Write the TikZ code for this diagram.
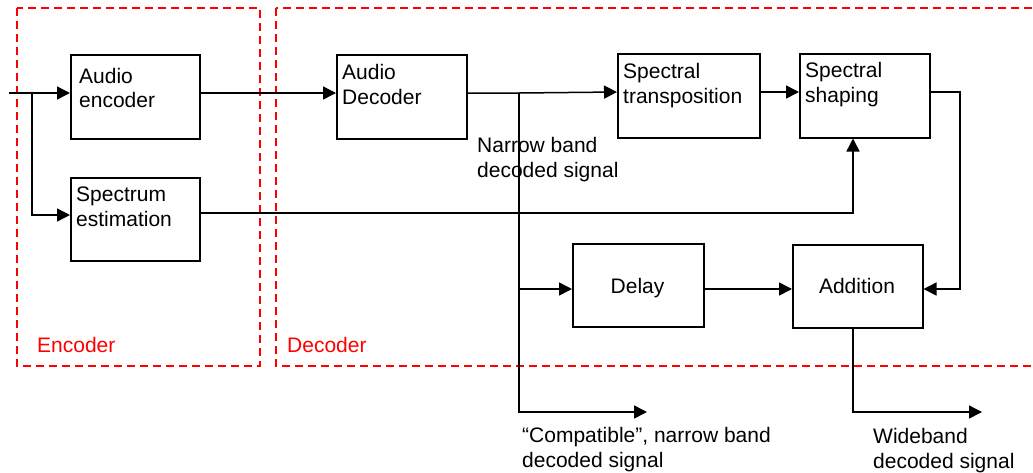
\documentclass[tikz,border=0pt]{standalone}
\usepackage{fontspec}
\setmainfont{Liberation Sans}
\usetikzlibrary{arrows.meta}
\tikzset{
  x=1pt, y=-1pt,
  blockbox/.style={draw=black, line width=1.5pt, rectangle, inner sep=0pt, anchor=north west},
  % anchor sits on the baseline of the last line of text
  blocktxt/.style={anchor=base west, inner sep=0pt, align=left,
    font=\fontsize{21}{24.5}\selectfont},
  regiontxt/.style={anchor=base west, inner sep=0pt, text=red,
    font=\fontsize{21}{24.5}\selectfont},
  region/.style={draw=red, line width=1.6pt, dash pattern=on 8pt off 5pt},
  wire/.style={draw=black, line width=1.5pt},
  flow/.style={wire, -{Triangle[length=13pt,width=13pt]}},
}
\begin{document}
\begin{tikzpicture}
\useasboundingbox (0,0) rectangle (1033,472);
\begin{scope}
\clip (0,0) rectangle (1033,472);

% dashed regions
\draw[region] (17,8) rectangle (260,366);
\draw[region] (276,8) rectangle (1050,366);
\node[regiontxt] (enclbl) at (37,352) {Encoder};
\node[regiontxt] (declbl) at (287,352) {Decoder};

% blocks
\node[blockbox, minimum width=129pt, minimum height=84pt] (aenc) at (70,54) {};
\node[blockbox, minimum width=129pt, minimum height=83pt] (spest) at (70,177) {};
\node[blockbox, minimum width=130pt, minimum height=84pt] (adec) at (336,54) {};
\node[blockbox, minimum width=142pt, minimum height=84pt] (sptr) at (617,53) {};
\node[blockbox, minimum width=130pt, minimum height=84pt] (spsh) at (799,53) {};
\node[blockbox, minimum width=131pt, minimum height=83pt] (delay) at (572,243) {};
\node[blockbox, minimum width=130pt, minimum height=83pt] (add) at (792,244) {};

% block texts
\node[blocktxt] (aenct) at (79,107.5) {Audio\\encoder};
\node[blocktxt] (spestt) at (76,226) {Spectrum\\estimation};
\node[blocktxt] (adect) at (342,104) {Audio\\Decoder};
\node[blocktxt] (sptrt) at (623,103) {Spectral\\transposition};
\node[blocktxt] (spsht) at (805,102) {Spectral\\shaping};
\node[blocktxt, anchor=base] (delayt) at (637.5,293) {Delay};
\node[blocktxt, anchor=base] (addt) at (857,293) {Addition};

% signal labels
\node[blocktxt] (nbl) at (477,177) {Narrow band\\decoded signal};
\node[blocktxt] (cnbl) at (522,467) {“Compatible”, narrow band\\decoded signal};
\node[blocktxt] (wbl) at (873,468) {Wideband\\decoded signal};

% junctions and free ends
\coordinate (in) at (9,93);
\coordinate (split) at (32,93);
\coordinate (nbsplit) at (519,93);
\coordinate (nbout) at (647,412);
\coordinate (wbout) at (982,412);

% encoder side
\draw[wire] (in) -- (split);
\draw[flow] (split) -- (aenc.west |- split);
\draw[flow] (split) |- (spest.west |- 0,215);
\draw[flow] (aenc.east |- 0,93) -- (adec.west |- 0,93);

% decoder side
\draw[flow] (adec.east |- 0,93) -- (nbsplit) -- (sptr.west |- 0,92);
\draw[flow] (sptr.east |- 0,92) -- (spsh.west |- 0,92);
\draw[flow] (spest.east |- 0,213) -| (spsh.south -| 853,0);
\draw[flow] (nbsplit) |- (delay.west |- 0,289);
\draw[flow] (nbsplit) |- (nbout);
\draw[flow] (delay.east |- 0,289) -- (add.west |- 0,289);
\draw[flow] (spsh.east |- 0,92) -- (960,92) |- (add.east |- 0,289);
\draw[flow] (add.south -| 853,0) |- (wbout);
\end{scope}
\end{tikzpicture}
\end{document}
